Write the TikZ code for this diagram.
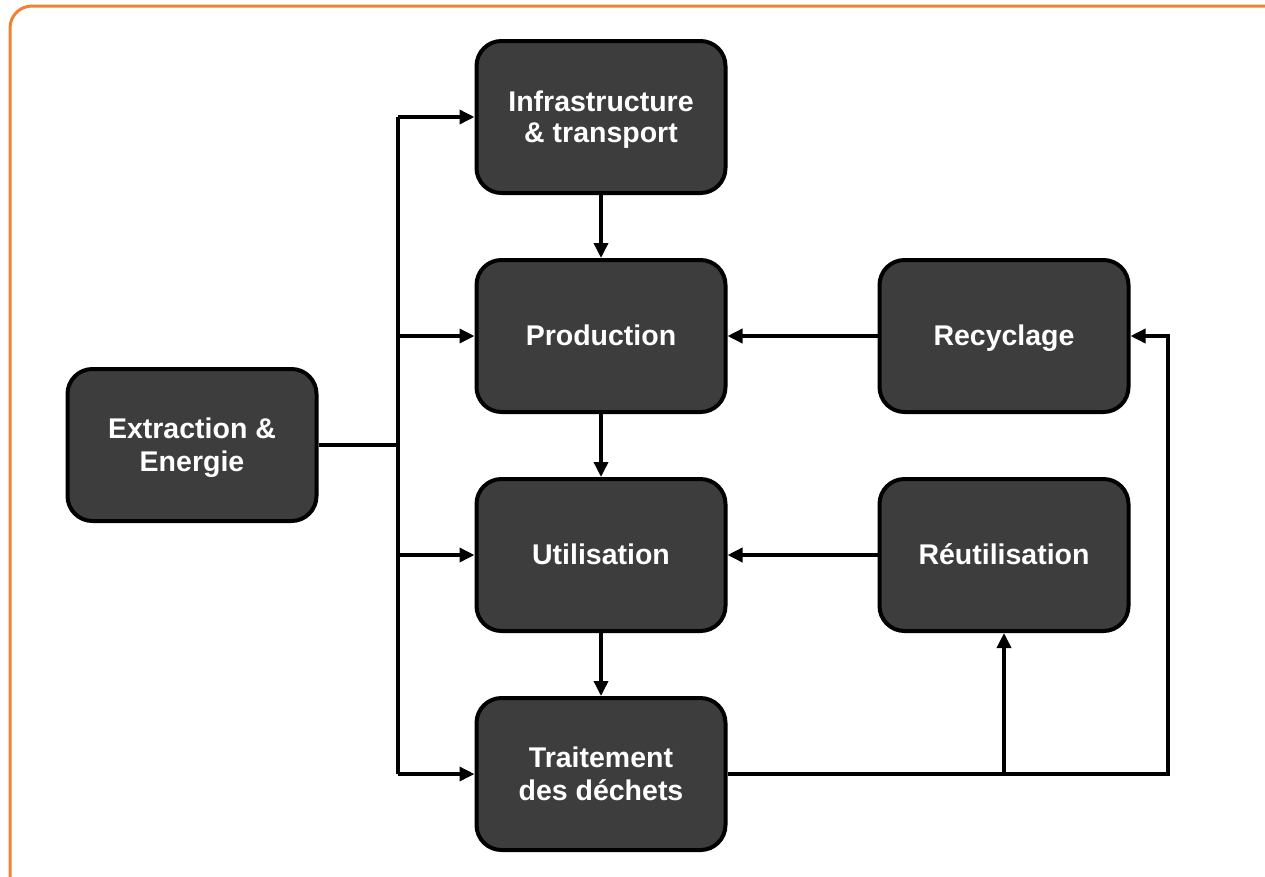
\documentclass[tikz,border=0pt]{standalone}
\usepackage{fontspec}
\setmainfont{Liberation Sans}
\usetikzlibrary{arrows.meta}
\definecolor{frameorange}{RGB}{240,130,50}
\definecolor{boxfill}{RGB}{61,61,61}
\newcommand{\boxtxt}[1]{\raisebox{-3.5pt}[\height][\depth]{\begin{tabular}{@{}c@{}}#1\end{tabular}}}
\begin{document}
\begin{tikzpicture}[x=1pt,y=-1pt,
  stepbox/.style={draw=black, fill=boxfill, line width=4pt, rounded corners=25pt,
    minimum width=249pt, minimum height=152pt, inner sep=0pt, text=white,
    align=center, font=\fontsize{28.5}{31.5}\selectfont\bfseries},
  conn/.style={draw=black, line width=3.5pt},
  arr/.style={conn, -{Triangle[length=15pt,width=14pt]}}]
\useasboundingbox (0,0) rectangle (1265,876);
\draw[frameorange, line width=3pt, rounded corners=22pt] (10,6) rectangle (1300,910);

\node[stepbox] (ex)  at (192,445) {\boxtxt{Extraction \&\\[1pt]Energie}};
\node[stepbox] (inf) at (601,117) {\boxtxt{Infrastructure\\\& transport}};
\node[stepbox] (pro) at (601,336) {\boxtxt{Production}};
\node[stepbox] (uti) at (601,555) {\boxtxt{Utilisation}};
\node[stepbox] (tr)  at (601,774) {\boxtxt{Traitement\\[1pt]des déchets}};
\node[stepbox] (rec) at (1004,336) {\boxtxt{Recyclage}};
\node[stepbox] (reu) at (1004,555) {\boxtxt{Réutilisation}};

\coordinate (j) at (398,445);
\coordinate (c) at (1168,774);

\draw[conn] (ex.east) -- (j);
\draw[conn] (j |- inf.west) -- (j |- tr.west);
\draw[arr] (j |- inf.west) -- (inf.west);
\draw[arr] (j |- pro.west) -- (pro.west);
\draw[arr] (j |- uti.west) -- (uti.west);
\draw[arr] (j |- tr.west) -- (tr.west);

\draw[arr] (inf.south) -- (pro.north);
\draw[arr] (pro.south) -- (uti.north);
\draw[arr] (uti.south) -- (tr.north);

\draw[arr] (rec.west) -- (pro.east);
\draw[arr] (reu.west) -- (uti.east);

\draw[arr] (tr.east) -- (c) |- (rec.east);
\draw[arr] (tr.east -| reu.south) -- (reu.south);
\end{tikzpicture}
\end{document}
